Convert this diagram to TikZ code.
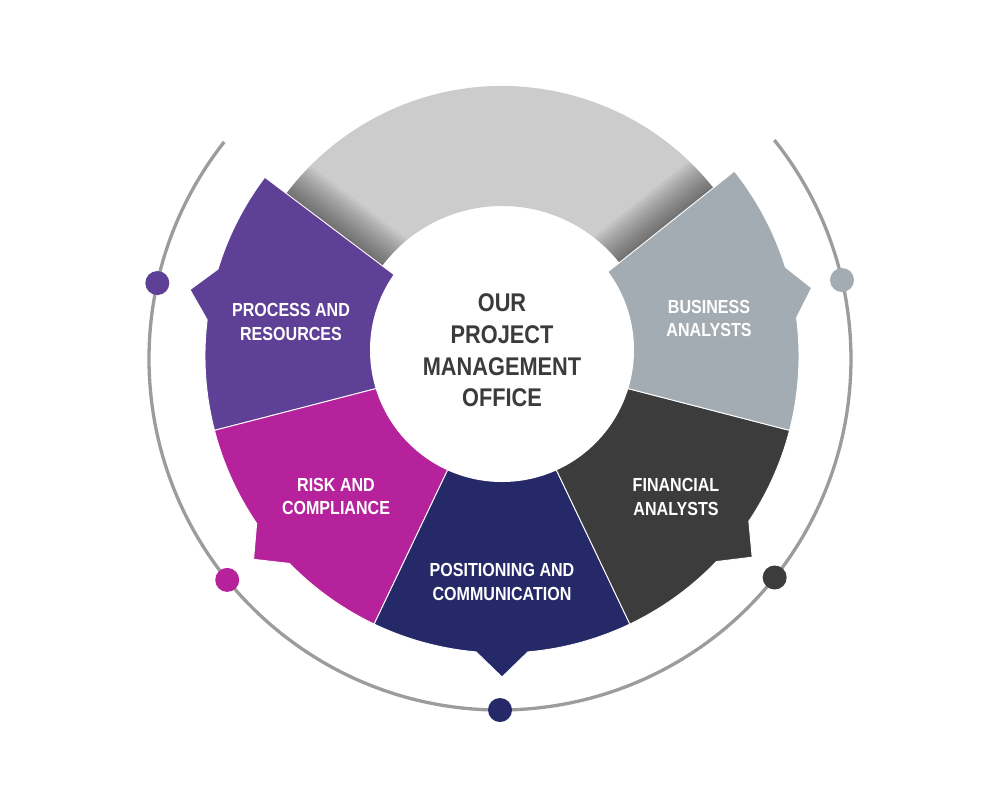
\documentclass[tikz,border=0pt]{standalone}
\usepackage{fontspec}
\newfontfamily\lab[FakeStretch=0.85]{Liberation Sans}
\definecolor{cpurple}{HTML}{5E4196}
\definecolor{cmagenta}{HTML}{B6229B}
\definecolor{cnavy}{HTML}{262968}
\definecolor{cdark}{HTML}{3B3C3B}
\definecolor{cbluegray}{HTML}{A3ACB2}
\definecolor{cring}{HTML}{CCCCCC}
\definecolor{cline}{HTML}{9C9C9C}
\definecolor{ctext}{HTML}{3B3B3B}
\tikzset{
  segtext/.style={text=white, align=center, font=\lab\bfseries\fontsize{18.9}{23.5}\selectfont, inner sep=0pt},
  midtext/.style={text=ctext, align=center, font=\lab\bfseries\fontsize{25.6}{31.7}\selectfont, inner sep=0pt},
  dot/.style={circle, minimum size=24pt, inner sep=0pt},
  segline/.style={draw=white, line width=0.9pt, line join=miter}
}
\newcommand\segment[5]{%
  \filldraw[fill=#1, segline] (#2:110) -- (#2:297)
    arc[start angle=#2, end angle={#4-5}, radius=297]
    -- (#4:#5) -- ({#4+5}:297)
    arc[start angle={#4+5}, end angle=#3, radius=297]
    -- (#3:110) arc[start angle=#3, end angle=#2, radius=110] -- cycle;}
\begin{document}
\begin{tikzpicture}[x=1pt, y=1pt]
\useasboundingbox (0,0) rectangle (1000,-792);
\fill[white] (0,0) rectangle (1000,-792);
\coordinate (O) at (502,-356);
\coordinate (W) at (502,-350);
\coordinate (A) at (500,-359);
% gray ring with fold shadows
\begin{scope}[shift={(O)}]
  \fill[cring] (30:150) -- (30:270) arc[start angle=30, end angle=150, radius=270]
     -- (150:150) arc[start angle=150, end angle=30, radius=150] -- cycle;
  \begin{scope}
    \clip (38.5:150) -- (38.5:270) arc[start angle=38.5, end angle=143, radius=270]
     -- (143:150) arc[start angle=143, end angle=38.5, radius=150] -- cycle;
    \foreach \d in {3,6,...,36} {
      \fill[black, opacity=0.045, rotate=143] (140,-\d) rectangle (280,0);
      \fill[black, opacity=0.045, rotate=38.5] (140,0) rectangle (280,\d);
    }
  \end{scope}
  % segments
  \segment{cpurple}{143}{194.5}{168}{319}
  \segment{cmagenta}{194.5}{244.5}{219.3}{321}
  \segment{cnavy}{244.5}{295.5}{270}{321}
  \segment{cdark}{295.5}{345.5}{321.2}{321}
  \segment{cbluegray}{345.5}{398.5}{372.4}{317}
\end{scope}
% white centre
\node[circle, fill=white, minimum size=264pt, inner sep=0pt] (hub) at (W) {};
% outer arc and dots
\begin{scope}[shift={(A)}]
  \draw[cline, line width=3.3pt] (141.8:351) arc[start angle=141.8, end angle=398.6, radius=351];
  \node[dot, fill=cpurple] (d1) at (167.5:351) {};
  \node[dot, fill=cmagenta] (d2) at (219:351) {};
  \node[dot, fill=cnavy] (d3) at (270:351) {};
  \node[dot, fill=cdark] (d4) at (321.5:351) {};
  \node[dot, fill=cbluegray] (d5) at (13:351) {};
\end{scope}
% texts
\node[midtext] (t0) at (502,-350.5) {OUR\\PROJECT\\MANAGEMENT\\OFFICE};
\node[segtext] (t1) at (291,-322) {PROCESS AND\\RESOURCES};
\node[segtext] (t2) at (336,-496.5) {RISK AND\\COMPLIANCE};
\node[segtext] (t3) at (502,-582) {POSITIONING AND\\COMMUNICATION};
\node[segtext] (t4) at (676,-497) {FINANCIAL\\ANALYSTS};
\node[segtext] (t5) at (709,-318.5) {BUSINESS\\ANALYSTS};
\end{tikzpicture}
\end{document}
